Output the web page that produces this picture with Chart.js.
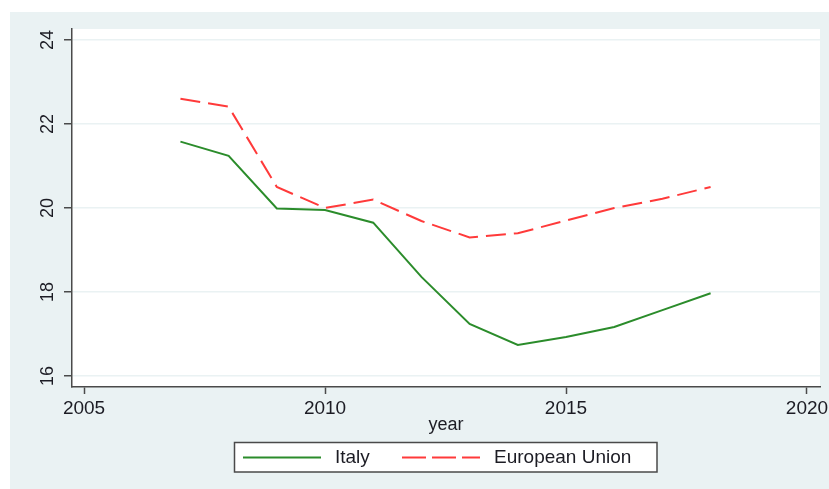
<!DOCTYPE html>
<html>
<head>
<meta charset="utf-8">
<script src="https://cdn.jsdelivr.net/npm/chart.js@4.4.1/dist/chart.umd.min.js"></script>
<style>
  html, body { margin: 0; padding: 0; background: #ffffff; }
  #wrap { width: 829px; height: 489px; position: relative; }
</style>
</head>
<body>
<div id="wrap"><canvas id="c" width="829" height="489"></canvas></div>
<script>
const years = [2007, 2008, 2009, 2010, 2011, 2012, 2013, 2014, 2015, 2016, 2017, 2018];
const italy = [21.58, 21.24, 19.99, 19.95, 19.65, 18.36, 17.24, 16.74, 16.93, 17.17, 17.57, 17.97];
const europeanUnion = [22.60, 22.41, 20.50, 20.00, 20.20, 19.69, 19.30, 19.40, 19.70, 20.00, 20.22, 20.50];
const xTicks = [2005, 2010, 2015, 2020];
const yTicks = [16, 18, 20, 22, 24];
const seriesNames = ['Italy', 'European Union'];
const xTitle = 'year';

const BG = '#eaf2f3';
const AXIS = '#4a4a4a';
const TEXT = '#1c1c24';
const GREEN = '#2b8c2b';
const RED = '#ff3a3a';
const FONT = '"Liberation Sans", Arial, sans-serif';

const bgPlugin = {
  id: 'bgPlugin',
  beforeDraw(chart) {
    const ctx = chart.ctx;
    const a = chart.chartArea;
    ctx.save();
    ctx.fillStyle = '#ffffff';
    ctx.fillRect(0, 0, chart.width, chart.height);
    ctx.fillStyle = BG;
    ctx.fillRect(10, 12, chart.width - 10, chart.height - 12);
    ctx.fillStyle = '#ffffff';
    ctx.fillRect(a.left, a.top, a.right - a.left, a.bottom - a.top);
    ctx.restore();
  },
  afterDraw(chart) {
    const ctx = chart.ctx;
    const ys = chart.scales.y;
    const a = chart.chartArea;
    ctx.save();
    // y tick labels, rotated
    ctx.fillStyle = TEXT;
    ctx.font = '18px ' + FONT;
    ctx.textAlign = 'center';
    ctx.textBaseline = 'middle';
    yTicks.forEach(v => {
      const py = ys.getPixelForValue(v);
      ctx.save();
      ctx.translate(47, py);
      ctx.rotate(-Math.PI / 2);
      ctx.fillText(String(v), 0, 1);
      ctx.restore();
    });
    // x title
    ctx.font = '18px ' + FONT;
    ctx.textAlign = 'center';
    ctx.textBaseline = 'middle';
    ctx.fillText(xTitle, (a.left + a.right) / 2, 425);
    // legend box
    ctx.fillStyle = '#ffffff';
    ctx.fillRect(234, 442, 423, 30);
    ctx.strokeStyle = AXIS;
    ctx.lineWidth = 1.5;
    ctx.strokeRect(234.5, 442.5, 422.5, 29.5);
    const ly = 457.5;
    ctx.lineWidth = 2;
    ctx.strokeStyle = GREEN;
    ctx.beginPath(); ctx.moveTo(243, ly); ctx.lineTo(321, ly); ctx.stroke();
    ctx.strokeStyle = RED;
    ctx.setLineDash([24, 6]);
    ctx.beginPath(); ctx.moveTo(402, ly); ctx.lineTo(480, ly); ctx.stroke();
    ctx.setLineDash([]);
    ctx.fillStyle = TEXT;
    ctx.font = '19px ' + FONT;
    ctx.textAlign = 'left';
    ctx.textBaseline = 'middle';
    ctx.fillText(seriesNames[0], 335, ly);
    ctx.fillText(seriesNames[1], 494, ly);
    ctx.restore();
  }
};

new Chart(document.getElementById('c'), {
  type: 'line',
  data: {
    datasets: [
      {
        label: seriesNames[0],
        data: years.map((y, i) => ({ x: y, y: italy[i] })),
        borderColor: GREEN,
        borderWidth: 2,
        pointRadius: 0,
        tension: 0,
        fill: false
      },
      {
        label: seriesNames[1],
        data: years.map((y, i) => ({ x: y, y: europeanUnion[i] })),
        borderColor: RED,
        borderWidth: 2,
        borderDash: [20, 8],
        pointRadius: 0,
        tension: 0,
        fill: false
      }
    ]
  },
  options: {
    responsive: false,
    animation: false,
    devicePixelRatio: 1,
    layout: { padding: { left: 0, top: 29, right: 9, bottom: 62 } },
    plugins: { legend: { display: false }, tooltip: { enabled: false } },
    scales: {
      x: {
        type: 'linear',
        min: 2004.75,
        max: 2020.27,
        afterBuildTicks(scale) { scale.ticks = xTicks.map(v => ({ value: v })); },
        afterFit(scale) { scale.height = 40; scale.paddingLeft = 0; scale.paddingRight = 0; },
        grid: { drawOnChartArea: false, drawTicks: true, tickLength: 7, tickColor: AXIS, tickWidth: 1.5 },
        border: { display: true, color: AXIS, width: 1.5 },
        ticks: {
          color: TEXT,
          font: { family: FONT, size: 19 },
          padding: 3,
          maxRotation: 0,
          minRotation: 0,
          callback: v => String(v)
        }
      },
      y: {
        type: 'linear',
        min: 15.74,
        max: 24.26,
        afterBuildTicks(scale) { scale.ticks = yTicks.map(v => ({ value: v })); },
        afterFit(scale) { scale.width = 72; },
        grid: { color: BG, lineWidth: 1.5, drawTicks: true, tickLength: 8, tickColor: AXIS, tickWidth: 1.5 },
        border: { display: true, color: AXIS, width: 1.5 },
        ticks: { display: false }
      }
    }
  },
  plugins: [bgPlugin]
});
</script>
</body>
</html>
